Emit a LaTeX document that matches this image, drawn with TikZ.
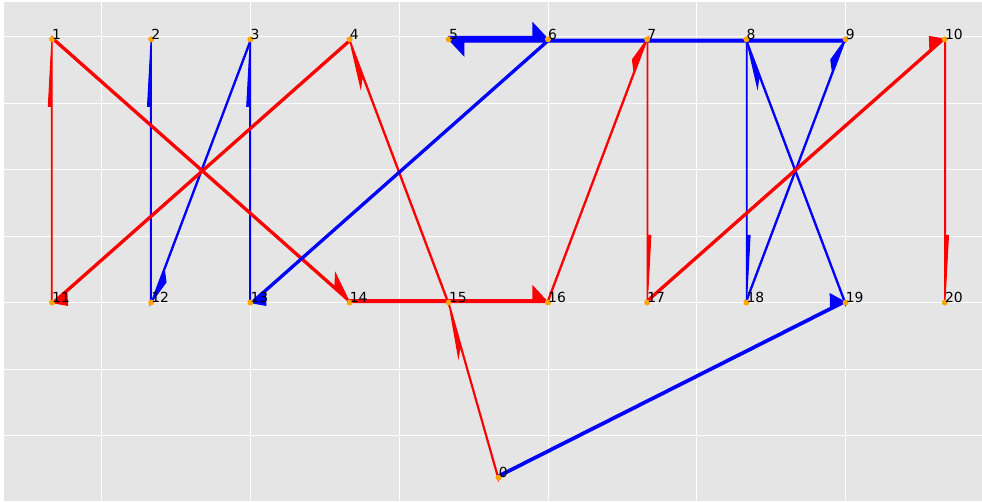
\documentclass[tikz,border=0pt]{standalone}
\usepackage{fontspec}
\setmainfont{DejaVu Sans}
\usepackage{xcolor}
\usetikzlibrary{calc}

\definecolor{dotorange}{HTML}{FFA500}
\definecolor{panelgrey}{HTML}{E5E5E5}
\definecolor{edgered}{HTML}{FF0000}
\definecolor{edgeblue}{HTML}{0000FF}

\pgfdeclarelayer{panel}
\pgfdeclarelayer{wires}
\pgfsetlayers{panel,wires,main}

% half arrow: thin stem and one-sided head (head sizes follow the squashed axes)
\newcommand{\halfarrow}[3]{%
  \fill[#3, draw=#3, line width=1.2pt]
    let \p1=(#1), \p2=(#2),
        \n1={veclen((\x2-\x1)/100,(\y2-\y1)/447)*100},
        \n2={(\x2-\x1)/\n1}, \n3={(\y2-\y1)/\n1}
    in (\p2)
    -- ({\x2-15*\n2-3.6*\n3/4.47}, {\y2-15*\n3+3.6*4.47*\n2})
    -- ({\x2-15*\n2-0.62*\n3/4.47}, {\y2-15*\n3+0.62*4.47*\n2})
    -- ({\x1-0.62*\n3/4.47}, {\y1+0.62*4.47*\n2})
    -- (\p1) -- cycle;}

\begin{document}
\begin{tikzpicture}[x=1pt, y=1pt,
    vtx/.style={circle, fill=dotorange, inner sep=0pt, minimum size=6pt},
    lbl/.style={anchor=base west, inner sep=0pt, font=\fontsize{13.9}{16}\selectfont},
    gridline/.style={white, line width=1pt}]

    \useasboundingbox (0,0) rectangle (982,-501);

    % Panel and grid
    \begin{pgfonlayer}{panel}
    \fill[white] (0,0) rectangle (982,-501);
    \fill[panelgrey] (4,-1.5) rectangle (982,-501);
    \foreach \k in {0,...,5}
        \draw[gridline] ({101.6+148.8*\k},-1.5) -- ({101.6+148.8*\k},-501);
    \foreach \k in {0,...,6}
        \draw[gridline] (4,{-36.6-66.5*\k}) -- (982,{-36.6-66.5*\k});
    \end{pgfonlayer}

    % Row 1: nodes 1-10
    \foreach \i in {1,...,10} {
        \node[vtx] (n\i) at ({52+99.2*(\i-1)},-39.3) {};
        \node[lbl] (t\i) at (n\i.center) {\i};
    }

    % Row 2: nodes 11-20
    \foreach \i in {11,...,20} {
        \node[vtx] (n\i) at ({52+99.2*(\i-11)},-302.5) {};
        \node[lbl] (t\i) at (n\i.center) {\i};
    }

    % Node 0 below
    \node[vtx] (n0) at (498.6,-477.5) {};
    \node[lbl] (t0) at (n0.center) {0};

    % Connections
    \begin{pgfonlayer}{wires}
    \foreach \a/\b/\c in {n11/n1/edgered, n12/n2/edgeblue, n13/n3/edgeblue,
        n3/n12/edgeblue, n1/n14/edgered, n4/n11/edgered, n15/n4/edgered,
        n6/n13/edgeblue, n5/n6/edgeblue, n9/n5/edgeblue, n16/n7/edgered,
        n7/n17/edgered, n8/n18/edgeblue, n19/n8/edgeblue, n18/n9/edgeblue,
        n17/n10/edgered, n10/n20/edgered, n14/n16/edgered, n0/n15/edgered,
        n0/n19/edgeblue}
        \halfarrow{\a}{\b}{\c};
    \end{pgfonlayer}
\end{tikzpicture}
\end{document}
